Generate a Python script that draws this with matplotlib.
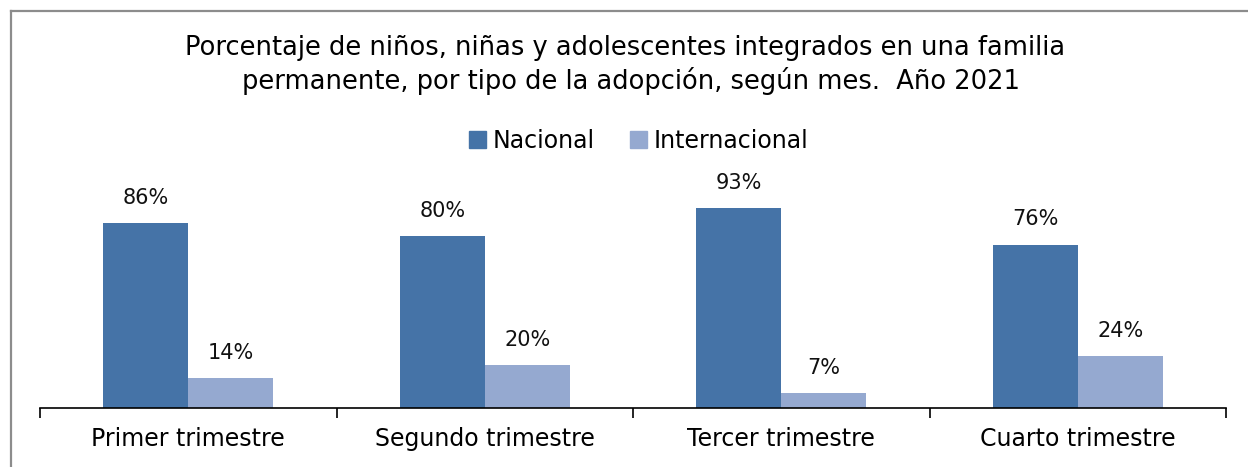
import matplotlib.pyplot as plt
import matplotlib.patches as mpatches
import numpy as np

plt.rcParams['font.family'] = ['DejaVu Sans']

categorias = ['Primer trimestre', 'Segundo trimestre', 'Tercer trimestre', 'Cuarto trimestre']
nacional = [86, 80, 93, 76]
internacional = [14, 20, 7, 24]
series = ['Nacional', 'Internacional']

color_nac = '#4573A7'
color_int = '#95A9D0'

fig = plt.figure(figsize=(12.48, 4.67), dpi=100)
ax = fig.add_axes([40 / 1248, 1 - 408 / 467, 1186 / 1248, 215 / 467])

x = np.arange(len(categorias))
width = 0.287

bars_n = ax.bar(x - width / 2, nacional, width, color=color_nac)
bars_i = ax.bar(x + width / 2, internacional, width, color=color_int)

# etiquetas de valores
for bars in [bars_n, bars_i]:
    for bar in bars:
        h = bar.get_height()
        ax.annotate(f'{h:.0f}%', xy=(bar.get_x() + bar.get_width() / 2, h),
                    xytext=(0, 11), textcoords='offset points',
                    ha='center', va='bottom', fontsize=15, color='#111111')

ax.set_xlim(-0.5, len(categorias) - 0.5)
ax.set_ylim(0, 100)
ax.set_yticks([])
for side in ['top', 'right', 'left']:
    ax.spines[side].set_visible(False)
ax.spines['bottom'].set_linewidth(1.2)

# ticks entre categorias
ax.set_xticks(np.arange(-0.5, len(categorias), 1.0), minor=False)
ax.set_xticklabels([])
ax.tick_params(axis='x', direction='out', length=7, width=1.2)
ax.set_xticks(x, minor=True)
ax.set_xticklabels(categorias, minor=True, fontsize=17)
ax.tick_params(axis='x', which='minor', length=0, pad=14)

fig.text(0.501, 1 - 48 / 467,
         'Porcentaje de niños, niñas y adolescentes integrados en una familia',
         ha='center', va='center', fontsize=18.5)
fig.text(0.506, 1 - 81 / 467,
         'permanente, por tipo de la adopción, según mes.  Año 2021',
         ha='center', va='center', fontsize=18.5)

handles = [mpatches.Patch(color=color_nac, label=series[0]),
           mpatches.Patch(color=color_int, label=series[1])]
fig.legend(handles=handles, loc='center', bbox_to_anchor=(0.512, 1 - 141 / 467),
           ncol=2, frameon=False, fontsize=17, handlelength=0.7, handleheight=0.7,
           handletextpad=0.3, columnspacing=1.5)

# borde gris del grafico
fig.add_artist(plt.Line2D([10.5 / 1248, 10.5 / 1248], [0, 1 - 10.5 / 467],
                          color='#8c8c8c', linewidth=1.6, transform=fig.transFigure))
fig.add_artist(plt.Line2D([10.5 / 1248, 1], [1 - 10.5 / 467, 1 - 10.5 / 467],
                          color='#8c8c8c', linewidth=1.6, transform=fig.transFigure))

plt.savefig('out.png', dpi=100)
plt.close()
